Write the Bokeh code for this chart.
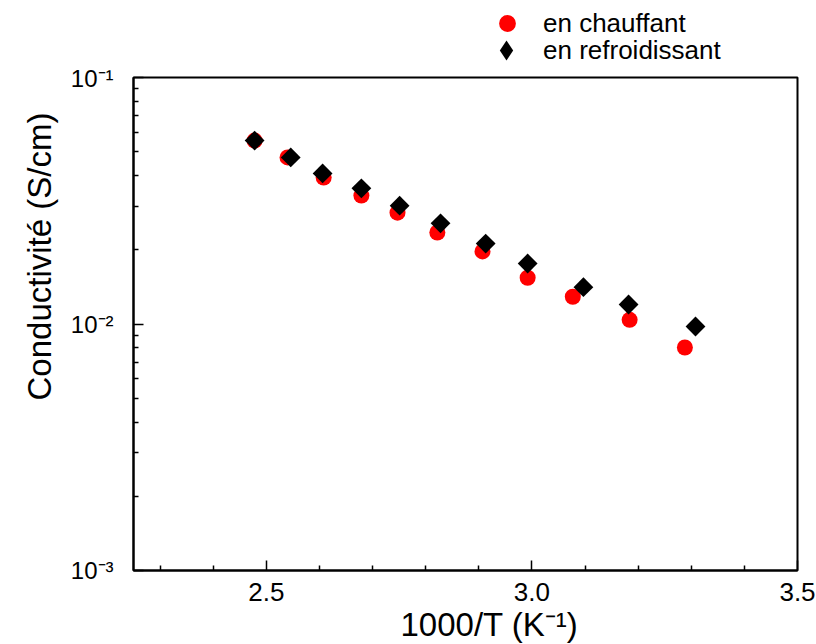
import math
from bokeh.plotting import figure
from bokeh.layouts import column
from bokeh.models import FixedTicker, Legend, LegendItem, Title
from bokeh.embed import file_html
from bokeh.resources import INLINE

# ---- data ----
inv_T_heat = [2.478, 2.540, 2.608, 2.679, 2.747, 2.822, 2.907, 2.992, 3.077, 3.184, 3.288]
sigma_heat = [0.0555, 0.0474, 0.0393, 0.0332, 0.0283, 0.0235, 0.0197, 0.0154, 0.0129, 0.0104, 0.00803]

inv_T_cool = [2.478, 2.546, 2.606, 2.679, 2.751, 2.828, 2.913, 2.992, 3.097, 3.182, 3.308]
sigma_cool = [0.0555, 0.0474, 0.0408, 0.0355, 0.0302, 0.0256, 0.0212, 0.0176, 0.0141, 0.0120, 0.00977]

series_labels = ["en chauffant", "en refroidissant"]

x_ticks = [2.5, 3.0, 3.5]
x_tick_labels = ["2.5", "3.0", "3.5"]
x_minor_ticks = [2.3, 2.4, 2.6, 2.7, 2.8, 2.9, 3.1, 3.2, 3.3, 3.4]

y_ticks = [0.001, 0.01, 0.1]
y_tick_labels = ["10\u207b\u00b3", "10\u207b\u00b2", "10\u207b\u00b9"]
y_minor_ticks = [0.002, 0.003, 0.004, 0.005, 0.006, 0.007, 0.008, 0.009,
                 0.02, 0.03, 0.04, 0.05, 0.06, 0.07, 0.08, 0.09]

x_title = "1000/T (K\u207b\u00b9)"
y_title = "Conductivit\u00e9 (S/cm)"

FONT = "Liberation Sans"
W = 816
TOP_H = 64           # strip holding the legend
MAIN_H = 644 - TOP_H
LEFT, RIGHT, TOP, BOTTOM = 133, 19, 13, 74
FRAME_BOTTOM = 570

# ---- legend strip ----
top = figure(width=W, height=TOP_H, x_range=(0, 1), y_range=(0, 1),
             output_backend="svg", toolbar_location=None, title=None,
             x_axis_location=None, y_axis_location=None,
             min_border_left=LEFT, min_border_right=RIGHT,
             min_border_top=0, min_border_bottom=0)
top.grid.visible = False
top.outline_line_color = None
top.background_fill_color = "white"
top.border_fill_color = "white"

# legend-only renderers: one undrawable (NaN) entry so the legend has a glyph to show
leg_heat = top.scatter(x=[math.nan], y=[math.nan], marker="circle",
                       fill_color="#FF0000", line_color=None)
leg_cool = top.scatter(x=[math.nan], y=[math.nan], marker="diamond",
                       fill_color="black", line_color=None)

def make_legend(label, renderer, cx, cy, box, standoff):
    # location = bottom-left corner of the legend box, relative to the frame
    return Legend(items=[LegendItem(label=label, renderers=[renderer])],
                  location=(cx - box / 2 - LEFT, TOP_H - (cy + box / 2)),
                  glyph_width=box, glyph_height=box, label_height=box,
                  label_standoff=standoff, padding=0, margin=0, spacing=0,
                  border_line_color=None, background_fill_alpha=0,
                  label_text_font=FONT, label_text_font_size="26px",
                  label_text_color="black")

top.add_layout(make_legend(series_labels[0], leg_heat, 507, 23, 42, 15))
top.add_layout(make_legend(series_labels[1], leg_cool, 506, 50, 50, 12))

# ---- main plot ----
p = figure(width=W, height=MAIN_H, x_range=(2.25, 3.5), y_range=(0.001, 0.1),
           y_axis_type="log", output_backend="svg", toolbar_location=None,
           title=None,
           min_border_left=LEFT, min_border_right=RIGHT,
           min_border_top=TOP, min_border_bottom=BOTTOM)

p.background_fill_color = "white"
p.border_fill_color = "white"
p.grid.visible = False
p.outline_line_color = "black"
p.outline_line_width = 2

for ax in (p.xaxis[0], p.yaxis[0]):
    ax.axis_line_width = 2
    ax.axis_line_color = "black"
    ax.major_tick_in = 10
    ax.major_tick_out = 0
    ax.minor_tick_in = 5
    ax.minor_tick_out = 0
    ax.major_tick_line_width = 1.5
    ax.minor_tick_line_width = 1.5
    ax.major_label_text_font = FONT
    ax.major_label_text_color = "black"

p.xaxis.ticker = FixedTicker(ticks=x_ticks, minor_ticks=x_minor_ticks)
p.xaxis.major_label_overrides = dict(zip(x_ticks, x_tick_labels))
p.xaxis.major_label_text_font_size = "26px"
p.xaxis.major_label_standoff = 12

p.yaxis.ticker = FixedTicker(ticks=y_ticks, minor_ticks=y_minor_ticks)
p.yaxis.major_label_overrides = dict(zip(y_ticks, y_tick_labels))
p.yaxis.major_label_text_font_size = "24px"
p.yaxis.major_label_standoff = 20

p.scatter(inv_T_heat, sigma_heat, marker="circle", size=16,
          fill_color="#FF0000", line_color=None)
p.scatter(inv_T_cool, sigma_cool, marker="square", size=14,
          angle=math.pi / 4, fill_color="black", line_color=None)

p.add_layout(Title(text=x_title, align="left", offset=400 - LEFT, standoff=0,
                   text_font=FONT, text_font_size="33px", text_font_style="normal",
                   text_color="black"), "below")
p.add_layout(Title(text=y_title, align="left", offset=FRAME_BOTTOM - 400, standoff=20,
                   text_font=FONT, text_font_size="33px", text_font_style="normal",
                   text_color="black"), "left")

layout = column(top, p, spacing=0)
open("out.html", "w").write(file_html(layout, INLINE))
